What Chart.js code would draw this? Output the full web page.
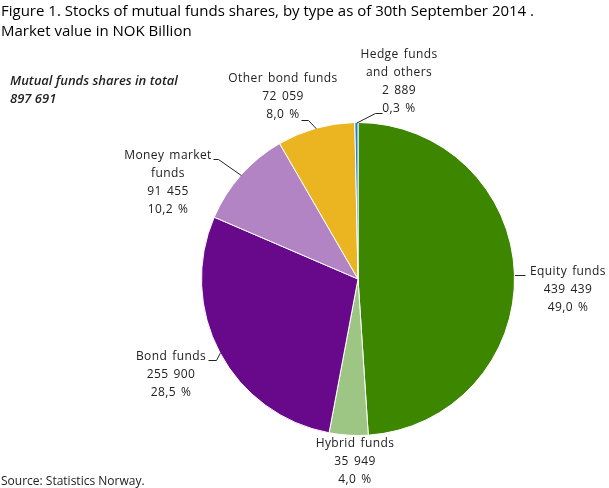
<!DOCTYPE html>
<html><head><meta charset="utf-8">
<script src="https://cdn.jsdelivr.net/npm/chart.js@4.4.0/dist/chart.umd.min.js"></script>
<style>html,body{margin:0;padding:0;background:#fff}#wrap{width:609px;height:488px}</style>
</head><body><div id="wrap"><canvas id="c" width="609" height="488"></canvas></div>
<script>
const categories = ["Equity funds","Hybrid funds","Bond funds","Money market funds","Other bond funds","Hedge funds and others"];
const values = [439439, 35949, 255900, 91455, 72059, 2889];
const percentLabels = ["49,0 %","4,0 %","28,5 %","10,2 %","8,0 %","0,3 %"];
const valueLabels = ["439 439","35 949","255 900","91 455","72 059","2 889"];
const nameLines = [["Equity funds"],["Hybrid funds"],["Bond funds"],["Money market","funds"],["Other bond funds"],["Hedge funds","and others"]];
const colors = ["#3d8700","#9dc584","#68088a","#b384c3","#ebb421","#1f7fd0"];
const totalLabel = ["Mutual funds shares in total","897 691"];

// label layout: text center x, first baseline y, connector points from the text towards the slice
const labelLayout = [
  {x:568, y:275, lead:[[525,275]], edge:true},
  {x:355, y:447, lead:null},
  {x:171, y:360, lead:[[208,360],[216,360]]},
  {x:168, y:159, lead:[[213,159],[218,159]]},
  {x:283, y:82,  lead:[[301,120],[308,120]]},
  {x:399, y:58,  lead:[[382,113],[375,113]]}
];

const textPlugin = {
  id:'texts',
  afterDraw(chart){
    const ctx = chart.ctx;
    const meta = chart.getDatasetMeta(0);
    ctx.save();
    ctx.fillStyle = '#000';
    ctx.textBaseline = 'alphabetic';
    ctx.textAlign = 'left';
    ctx.font = '15px "Open Sans"';
    ctx.fillText('Figure 1. Stocks of mutual funds shares, by type as of 30th September 2014 .', 1, 16);
    ctx.fillText('Market value in NOK Billion', 1, 36);
    ctx.fillStyle = '#222';
    ctx.font = 'italic 600 13px "Open Sans"';
    ctx.fillText(totalLabel[0], 10, 85);
    ctx.fillText(totalLabel[1], 10, 103);
    ctx.font = '12px "Open Sans"';
    ctx.fillText('Source: Statistics Norway.', 1, 485);
    ctx.textAlign = 'center';
    ctx.letterSpacing = '0.4px';
    ctx.wordSpacing = '1.5px';
    const lh = 18;
    categories.forEach((c,i)=>{
      const L = labelLayout[i];
      const lines = nameLines[i].concat([valueLabels[i], percentLabels[i]]);
      lines.forEach((t,k)=>ctx.fillText(t, L.x, L.y + k*lh));
      if (L.lead){
        const arc = meta.data[i];
        const p = arc.getProps(['x','y','startAngle','endAngle','outerRadius'], true);
        let start;
        if (L.edge){
          const dy = L.lead[0][1] - p.y;
          start = [p.x + Math.sqrt(p.outerRadius*p.outerRadius - dy*dy), L.lead[0][1]];
        } else {
          const mid = (p.startAngle + p.endAngle)/2;
          start = [p.x + Math.cos(mid)*p.outerRadius, p.y + Math.sin(mid)*p.outerRadius];
        }
        const pts = L.lead.concat([start]);
        ctx.beginPath();
        ctx.strokeStyle = '#222';
        ctx.lineWidth = 1;
        pts.forEach((q,j)=> j? ctx.lineTo(q[0]+0.5,q[1]+0.5) : ctx.moveTo(q[0]+0.5,q[1]+0.5));
        ctx.stroke();
      }
    });
    ctx.restore();
  }
};

new Chart(document.getElementById('c'), {
  type:'pie',
  data:{labels:categories, datasets:[{data:values, backgroundColor:colors, borderColor:'#fff', borderWidth:1}]},
  options:{
    responsive:false, animation:false,
    layout:{padding:{left:201, right:94, top:122, bottom:52}},
    plugins:{legend:{display:false}, tooltip:{enabled:false}, title:{display:false}}
  },
  plugins:[textPlugin]
});
</script></body></html>
